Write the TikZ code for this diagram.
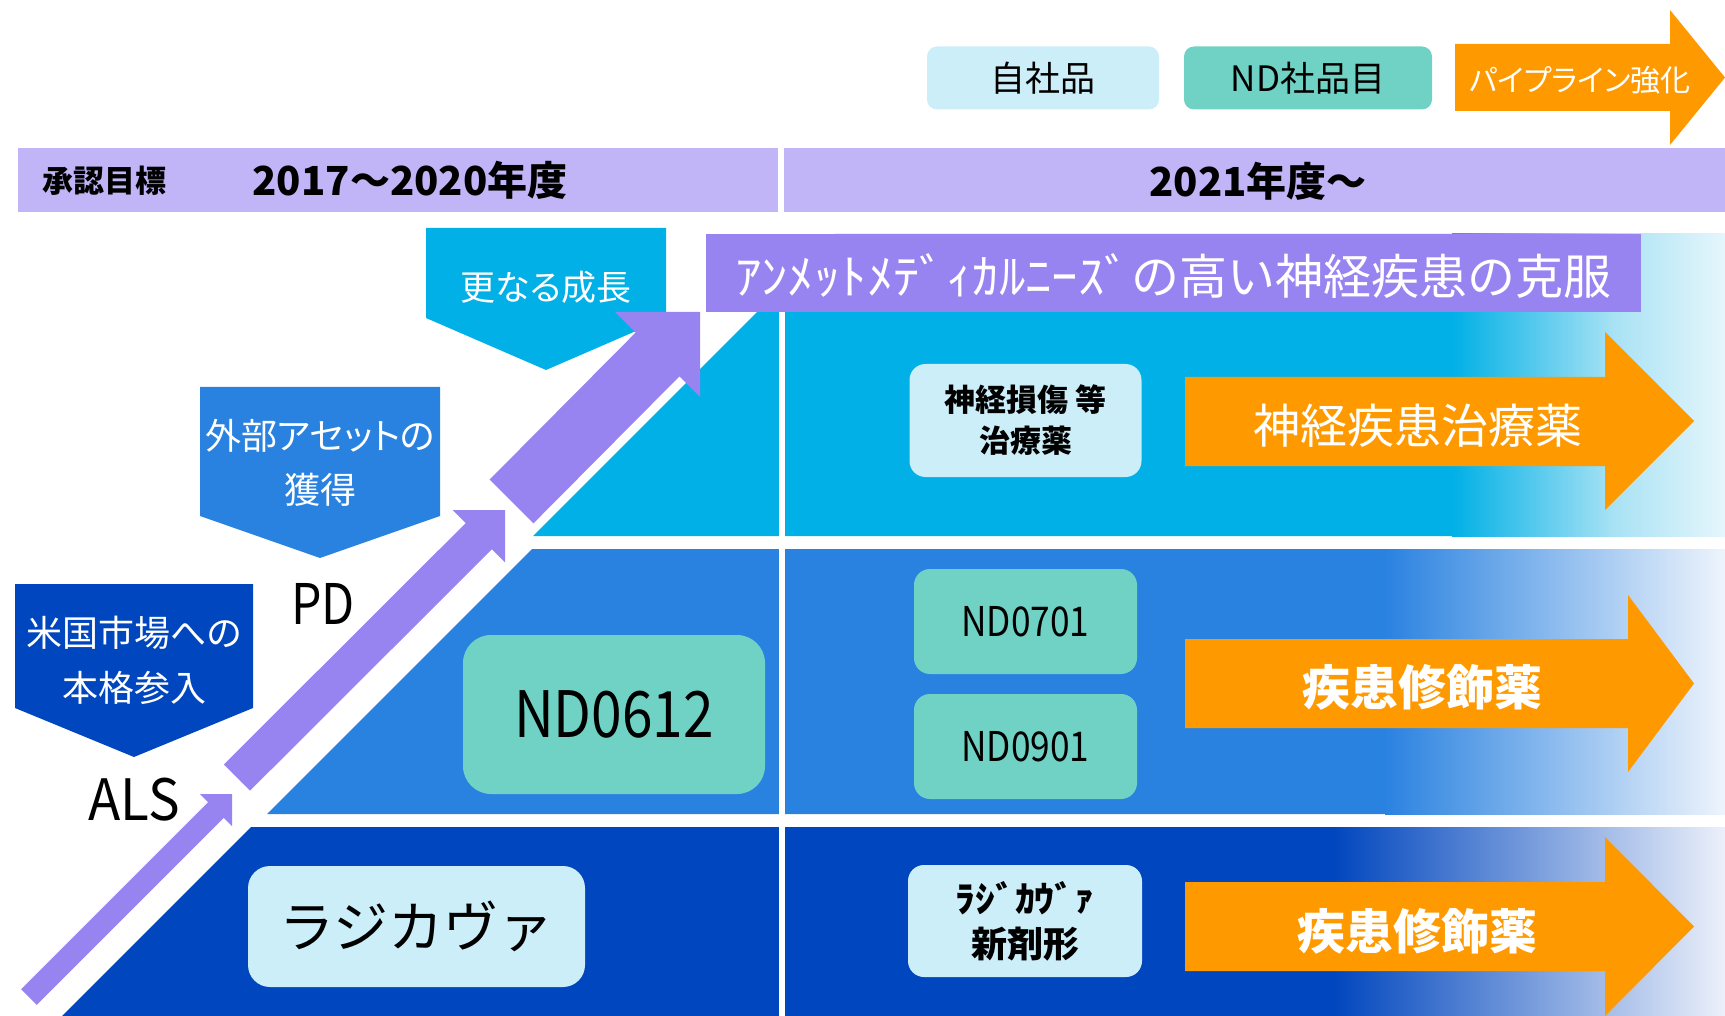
\documentclass[tikz,border=0pt]{standalone}
\usepackage{fontspec}
\setmainfont{Noto Sans CJK JP}
\newfontfamily\jpp{Noto Sans CJK JP}[CharacterWidth=AlternateProportional]
\newfontfamily\jpc{Noto Sans CJK JP}[FakeStretch=0.86]
\newfontfamily\jpa{Noto Sans CJK JP}[FakeStretch=0.93]
\newfontfamily\jph{Noto Sans CJK JP}[FakeStretch=1.1]
\newcommand\myfs[2]{\fontsize{#1}{#2}\selectfont}
\definecolor{hdr}{RGB}{193,181,248}
\definecolor{purp}{RGB}{152,132,240}
\definecolor{cyanb}{RGB}{0,176,230}
\definecolor{cyanmid}{RGB}{168,226,244}
\definecolor{cyanend}{RGB}{230,246,252}
\definecolor{midb}{RGB}{42,130,224}
\definecolor{midend}{RGB}{238,244,252}
\definecolor{darkb}{RGB}{0,70,190}
\definecolor{darkend}{RGB}{236,240,250}
\definecolor{lcyan}{RGB}{204,238,248}
\definecolor{tealb}{RGB}{112,210,196}
\definecolor{orng}{RGB}{255,153,0}
\begin{document}
\begin{tikzpicture}[x=1pt,y=-1pt,
  txt/.style={inner sep=0pt, align=center},
  wtxt/.style={txt, text=white},
  btxt/.style={txt, text=black},
  boxnode/.style={inner sep=0pt, align=center, text=black}]
\useasboundingbox (0,0) rectangle (1725,1016);
\clip (0,0) rectangle (1725,1016);

% header bars
\fill[hdr] (18,148) rectangle (778,212);
\fill[hdr] (784,148) rectangle (1725,212);
\node[txt, font=\bfseries\myfs{31}{31}] (shonin) at (104,181) {承認目標};
\node[txt, font=\bfseries\myfs{40}{40}] (yearA) at (410,180) {2017～2020年度};
\node[txt, font=\bfseries\myfs{40}{40}] (yearB) at (1258,181) {2021年度～};

% legend
\node[boxnode, fill=lcyan, rounded corners=10pt, minimum width=232pt, minimum height=63pt, font=\myfs{35}{35}] (legown) at (1043,78) {自社品};
\node[boxnode, fill=tealb, rounded corners=10pt, minimum width=248pt, minimum height=63pt, font=\myfs{35}{35}] (legnd) at (1308,78) {ND社品目};
\fill[orng] (1455,44) -- (1670,44) -- (1670,10) -- (1725,77.5) -- (1670,145) -- (1670,111) -- (1455,111) -- cycle;
\node[wtxt, font=\jpp\myfs{30}{30}] (legpipe) at (1580,80) {パイプライン強化};

% bands
\fill[cyanb] (835,234) -- (1725,234) -- (1725,536) -- (533,536) -- cycle;
\fill[midb] (532,549) -- (1725,549) -- (1725,814) -- (267,814) -- cycle;
\fill[darkb] (251,827) -- (1725,827) -- (1725,1016) -- (62,1016) -- cycle;
\shade[left color=cyanb, right color=cyanmid] (1452,234) rectangle (1614,536);
\shade[left color=cyanmid, right color=cyanend] (1613,234) rectangle (1725,536);
\shade[left color=midb, right color=midend] (1385,549) rectangle (1725,814);
\shade[left color=darkb, right color=darkend] (1333,827) rectangle (1725,1016);

% divider
\fill[white] (779,212) rectangle (785,1016);

% banner
\fill[purp] (706,234) rectangle (1641,312);
\node[wtxt, font=\myfs{48}{48}] (banner) at (1173,276) {{\jph ｱﾝﾒｯﾄﾒﾃﾞｨｶﾙﾆｰｽﾞ}の高い神経疾患の克服};

% pentagon callouts
\fill[cyanb] (426,228) -- (666,228) -- (666,318) -- (546,370) -- (426,318) -- cycle;
\node[wtxt, font=\jpp\myfs{35}{35}] (grow) at (546,287) {更なる成長};
\fill[midb] (200,387) -- (440,387) -- (440,516) -- (320,558) -- (200,516) -- cycle;
\node[wtxt, font=\jpp\myfs{36}{54}] (asset) at (320,463) {外部アセットの\\獲得};
\fill[darkb] (15,584) -- (253,584) -- (253,708) -- (134,757) -- (15,708) -- cycle;
\node[wtxt, font=\jpp\myfs{36}{55}] (usmkt) at (134,660) {米国市場への\\本格参入};

% purple growth arrows
\fill[purp] (700,312) -- (615.2,312) -- (635.7,332.5) -- (489.6,479.6) -- (533.4,523.4) -- (679.5,376.3) -- (700,396.8) -- cycle;
\fill[purp] (505,510) -- (452.6,510) -- (465.7,523.1) -- (223.9,764.4) -- (250.1,790.6) -- (491.9,549.3) -- (505,562.4) -- cycle;
\fill[purp] (232,794) -- (200,794) -- (208.2,802.2) -- (21.2,989.2) -- (36.8,1004.8) -- (223.8,817.8) -- (232,826) -- cycle;

\node[btxt, font=\jpc\myfs{56}{56}] (pd) at (323,604) {PD};
\node[btxt, font=\jpa\myfs{57}{57}] (als) at (134,800) {ALS};

% left boxes
\node[boxnode, fill=tealb, rounded corners=28pt, minimum width=302pt, minimum height=159pt, font=\jpc\myfs{64}{64}] (nd0612) at (614,714.5) {ND0612};
\node[boxnode, fill=lcyan, rounded corners=22pt, minimum width=337pt, minimum height=121pt, font=\myfs{55}{55}] (radicava) at (416.5,926.5) {ラジカヴァ};

% right boxes
\node[boxnode, fill=lcyan, rounded corners=16pt, minimum width=232pt, minimum height=113pt, font=\bfseries\myfs{31}{41}] (nerve) at (1025.5,420.5) {神経損傷 等\\治療薬};
\node[boxnode, fill=tealb, rounded corners=16pt, minimum width=223pt, minimum height=105pt, font=\jpc\myfs{41}{41}] (nd0701) at (1025.5,621.5) {ND0701};
\node[boxnode, fill=tealb, rounded corners=16pt, minimum width=223pt, minimum height=105pt, font=\jpc\myfs{41}{41}] (nd0901) at (1025.5,746.5) {ND0901};
\node[boxnode, fill=lcyan, rounded corners=16pt, minimum width=234pt, minimum height=112pt, font=\bfseries\myfs{36}{45}] (radnew) at (1025,921) {{\jph ﾗｼﾞｶｳﾞｧ}\\新剤形};

% orange arrows
\fill[orng] (1185,377) -- (1605,377) -- (1605,332) -- (1694,421) -- (1605,510) -- (1605,466) -- (1185,466) -- cycle;
\node[wtxt, font=\myfs{47}{47}] (arrA) at (1418,426) {神経疾患治療薬};
\fill[orng] (1185,639) -- (1628,639) -- (1628,595) -- (1694,683.5) -- (1628,772) -- (1628,728) -- (1185,728) -- cycle;
\node[wtxt, font=\bfseries\myfs{48}{48}] (arrB) at (1422,687) {疾患修飾薬};
\fill[orng] (1185,882) -- (1605,882) -- (1605,837) -- (1694,926.5) -- (1605,1016) -- (1605,971) -- (1185,971) -- cycle;
\node[wtxt, font=\bfseries\myfs{48}{48}] (arrC) at (1417,931) {疾患修飾薬};
\end{tikzpicture}
\end{document}
